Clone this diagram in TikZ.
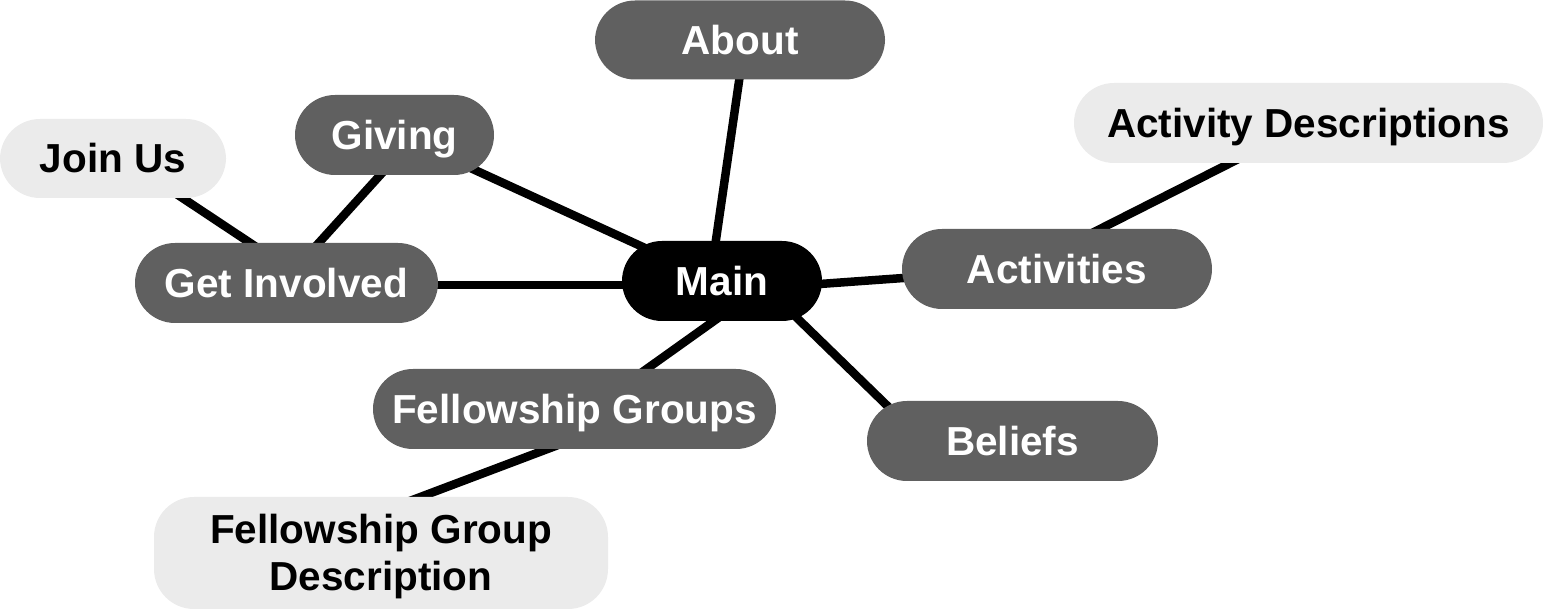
\documentclass[tikz,border=0pt]{standalone}
\usepackage{fontspec}
\setmainfont{Liberation Sans}
\usetikzlibrary{backgrounds}
\definecolor{topicgray}{HTML}{606060}
\definecolor{leafgray}{HTML}{EBEBEB}
\begin{document}
\begin{tikzpicture}[x=1pt,y=-1pt,
  box/.style={rounded corners=40pt, inner sep=0pt,
    font=\fontsize{40.5}{47}\selectfont\bfseries},
  oneline/.style={text height=29pt, text depth=0pt},
  hub/.style={box, oneline, fill=black, text=white},
  topic/.style={box, oneline, fill=topicgray, text=white},
  leaf/.style={box, fill=leafgray, text=black},
  link/.style={line width=8.5pt, draw=black}]
\useasboundingbox (0,0) rectangle (1543,609);

% hub and topics
\node[hub, minimum width=200pt, minimum height=80pt] (main) at (722,281) {Main};
\node[topic, minimum width=290pt, minimum height=79pt] (about) at (740,40) {About};
\node[topic, minimum width=199pt, minimum height=80pt] (giving) at (394.5,135) {Giving};
\node[topic, minimum width=303pt, minimum height=80pt] (involved) at (286.5,283) {Get Involved};
\node[topic, minimum width=310pt, minimum height=80pt] (activities) at (1057,269) {Activities};
\node[topic, minimum width=403pt, minimum height=80pt] (fellowship) at (574.5,409) {Fellowship Groups};
\node[topic, minimum width=291pt, minimum height=80pt] (beliefs) at (1012.5,441) {Beliefs};

% leaves
\node[leaf, oneline, minimum width=226pt, minimum height=79pt] (joinus) at (113,158.5) {Join Us};
\node[leaf, oneline, minimum width=469pt, minimum height=80pt] (actdesc) at (1308.5,123) {Activity Descriptions};
\node[leaf, minimum width=454pt, minimum height=112pt] (fgdesc) at (381,553)
  {\raisebox{-11pt}[40pt][40pt]{\begin{tabular}{@{}c@{}}Fellowship Group\\Description\end{tabular}}};

% connectors behind the boxes
\begin{pgfonlayer}{background}
\draw[link] ([shift={(-12,0)}]main.center) -- ([shift={(5,0)}]about.center);
\draw[link] ([shift={(-5,0)}]main.center) -- ([shift={(4,0)}]giving.center);
\draw[link] ([shift={(0,4)}]main.center) -- ([shift={(0,2)}]involved.center);
\draw[link] ([shift={(0,10)}]main.center) -- ([shift={(0,-2)}]activities.center);
\draw[link] ([shift={(48,0)}]main.center) -- ([shift={(16,0)}]fellowship.center);
\draw[link] ([shift={(37,0)}]main.center) -- ([shift={(-89,0)}]beliefs.center);
\draw[link] ([shift={(24,0)}]involved.center) -- ([shift={(10,0)}]joinus.center);
\draw[link] ([shift={(-4,0)}]involved.center) -- ([shift={(22,0)}]giving.center);
\draw[link] ([shift={(-36,0)}]activities.center) -- ([shift={(1,0)}]actdesc.center);
\draw[link] ([shift={(79,0)}]fellowship.center) -- ([shift={(-109,0)}]fgdesc.center);
\end{pgfonlayer}
\end{tikzpicture}
\end{document}
